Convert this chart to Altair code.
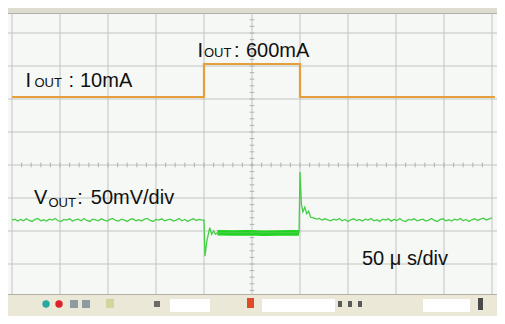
import altair as alt
import pandas as pd

# ---- data (time in microseconds, 50 us/div; vertical in screen divisions) ----
t_left = list(range(0, 200, 3))
green_left = [2.33, 2.36, 2.30, 2.35, 2.31, 2.37, 2.32, 2.29, 2.35, 2.38,
              2.31, 2.34, 2.30, 2.36, 2.33, 2.38, 2.31, 2.29, 2.35, 2.33,
              2.37, 2.30, 2.34, 2.36, 2.31, 2.38, 2.32, 2.29, 2.36, 2.34,
              2.31, 2.37, 2.33, 2.30, 2.35, 2.38, 2.32, 2.30, 2.36, 2.33,
              2.29, 2.35, 2.37, 2.31, 2.34, 2.30, 2.36, 2.38, 2.32, 2.29,
              2.35, 2.33, 2.37, 2.31, 2.34, 2.36, 2.30, 2.33, 2.38, 2.31,
              2.35, 2.29, 2.34, 2.37, 2.32, 2.35, 2.33]
t_drop = [200, 201, 203, 206, 208, 210, 212, 214]
green_drop = [2.33, 1.24, 1.70, 2.10, 1.90, 2.00, 1.90, 1.95]
t_load = [214, 230, 246, 262, 278, 294, 299]
green_load = [1.95, 1.94, 1.95, 1.93, 1.94, 1.95, 1.94]
t_rise = [299, 300, 301.5, 303, 305, 307, 309, 311]
green_rise = [1.95, 3.79, 2.80, 2.58, 2.72, 2.52, 2.60, 2.42]
t_right = list(range(314, 501, 3))
green_right = [2.40, 2.36, 2.38, 2.33, 2.37, 2.34, 2.31, 2.36, 2.33, 2.38,
               2.31, 2.35, 2.29, 2.34, 2.37, 2.32, 2.35, 2.30, 2.36, 2.33,
               2.38, 2.31, 2.34, 2.29, 2.36, 2.33, 2.37, 2.30, 2.35, 2.32,
               2.38, 2.31, 2.29, 2.35, 2.33, 2.37, 2.31, 2.34, 2.36, 2.30,
               2.33, 2.38, 2.32, 2.29, 2.35, 2.37, 2.31, 2.34, 2.30, 2.36,
               2.33, 2.38, 2.31, 2.35, 2.29, 2.34, 2.37, 2.32, 2.36, 2.39,
               2.33, 2.37, 2.40]

iout_t = [0, 200, 200, 300, 300, 503]
iout_div = [6.06, 6.06, 7.06, 7.06, 6.06, 6.06]

v_grid_t = [0, 50, 100, 150, 200, 250, 300, 350, 400, 450, 500]
h_grid_div = [1, 2, 3, 4, 5, 6, 7, 8]

# ---- tables ----
g_t = t_left + t_drop + t_rise + t_right
g_v = green_left + green_drop + green_rise + green_right
green_df = pd.DataFrame({"t": g_t, "v": g_v, "o": range(len(g_t))})
load_df = pd.DataFrame({"t": t_load, "v": green_load, "o": range(len(t_load))})
orange_df = pd.DataFrame({"t": iout_t, "v": iout_div, "o": range(len(iout_t))})
vgrid_df = pd.DataFrame({"t": v_grid_t, "v1": -0.6, "v2": 8.8})
hgrid_df = pd.DataFrame({"v": h_grid_div, "t1": -5.0, "t2": 506.0})
hticks_df = pd.DataFrame({"t": [i * 10 for i in range(1, 50)], "v1": 3.93, "v2": 4.07})
vticks_df = pd.DataFrame({"v": [i * 0.2 for i in range(1, 44)], "t1": 247.6, "t2": 252.4})
one_df = pd.DataFrame({"k": [0]})

XS = alt.Scale(domain=[-4.1667, 505.208], nice=False, zero=False)
YS = alt.Scale(domain=[-0.5758, 8.7576], nice=False, zero=False)
W, H = 489, 308
GRID = "#c2c4c2"


def xq(f):
    return alt.X(f, type="quantitative", scale=XS, axis=None)


def yq(f):
    return alt.Y(f, type="quantitative", scale=YS, axis=None)


vgrid = alt.Chart(vgrid_df).mark_rule(color=GRID, strokeWidth=1).encode(
    x=xq("t"), y=yq("v1"), y2="v2")
hgrid = alt.Chart(hgrid_df).mark_rule(color=GRID, strokeWidth=1).encode(
    y=yq("v"), x=xq("t1"), x2="t2")
hticks = alt.Chart(hticks_df).mark_rule(color="#b0b2b0", strokeWidth=1).encode(
    x=xq("t"), y=yq("v1"), y2="v2")
vticks = alt.Chart(vticks_df).mark_rule(color="#b0b2b0", strokeWidth=1).encode(
    y=yq("v"), x=xq("t1"), x2="t2")

orange = alt.Chart(orange_df).mark_line(color="#e5a03c", strokeWidth=2.2).encode(
    x=xq("t"), y=yq("v"), order="o:Q")
green = alt.Chart(green_df).mark_line(color="#45cf45", strokeWidth=1.3).encode(
    x=xq("t"), y=yq("v"), order="o:Q")
load = alt.Chart(load_df).mark_line(color="#22d422", strokeWidth=5.5).encode(
    x=xq("t"), y=yq("v"), order="o:Q")

# ---- scope chrome (decoration, pixel positions) ----
deco_rows = [
    (0, 489, -2, 5, "#dedcd0"),
    (0, 489, 5, 6, "#b0b0a8"),
    (0, 489, 286, 310, "#ebe8d8"),
    (0, 489, 286, 287, "#b0b0a8"),
    (162, 202, 291, 304, "#ffffff"),
    (254, 327, 291, 304, "#ffffff"),
    (415, 462, 291, 304, "#ffffff"),
    (239, 246, 290, 300, "#e04a28"),
    (62, 70, 292, 300, "#8e9ca2"),
    (74, 82, 292, 300, "#8e9ca2"),
    (98, 106, 291, 300, "#d4d49c"),
    (146, 152, 293, 299, "#6a6a6a"),
    (330, 334, 293, 299, "#5a5a5a"),
    (340, 344, 293, 299, "#5a5a5a"),
    (350, 354, 293, 299, "#5a5a5a"),
    (470, 475, 290, 302, "#4a4a4a"),
]
deco = []
for (a, b, c, d, col) in deco_rows:
    deco.append(alt.Chart(one_df).mark_rect(color=col).encode(
        x=alt.value(a), x2=alt.value(b), y=alt.value(c), y2=alt.value(d)))
for (cx, cy, col) in [(38, 296, "#2aa8a0"), (51, 296, "#e0202a")]:
    deco.append(alt.Chart(one_df).mark_circle(size=55, opacity=1, color=col).encode(
        x=alt.value(cx), y=alt.value(cy)))

# ---- labels ----
FONT = "Liberation Sans"
NB = "\u00a0"
label_rows = [
    (17.5, 79, 20, "I"),
    (26.5, 79, 13, "OUT"),
    (60.5, 79, 20, ":"),
    (72, 79, 20, "10mA"),
    (189.5, 49, 20, "I"),
    (196, 49, 13, "OUT"),
    (226, 49, 20, ":"),
    (238, 49, 20, "600mA"),
    (26, 195.5, 20, "V"),
    (40.5, 198.5, 13, "OUT"),
    (69.2, 195.5, 20, ":"),
    (82.8, 195.5, 20, "50mV/div"),
    (354, 257, 20, "50" + NB + "\u03bc" + NB + "s/div"),
]
labels = []
for (lx, ly, fs, txt) in label_rows:
    labels.append(alt.Chart(one_df).mark_text(
        align="left", baseline="alphabetic", font=FONT, fontSize=fs,
        fontWeight="normal", color="#111111", text=txt).encode(
        x=alt.value(lx), y=alt.value(ly)))

chart = alt.layer(vgrid, hgrid, hticks, vticks, orange, load, green, *deco, *labels).properties(
    width=W, height=H, background="#f5f8f4",
    autosize=alt.AutoSizeParams(type="none"), padding=0,
).configure_view(stroke=None, fill="#f5f8f4")

chart.save("out.html", embed_options={"renderer": "svg", "actions": False})
